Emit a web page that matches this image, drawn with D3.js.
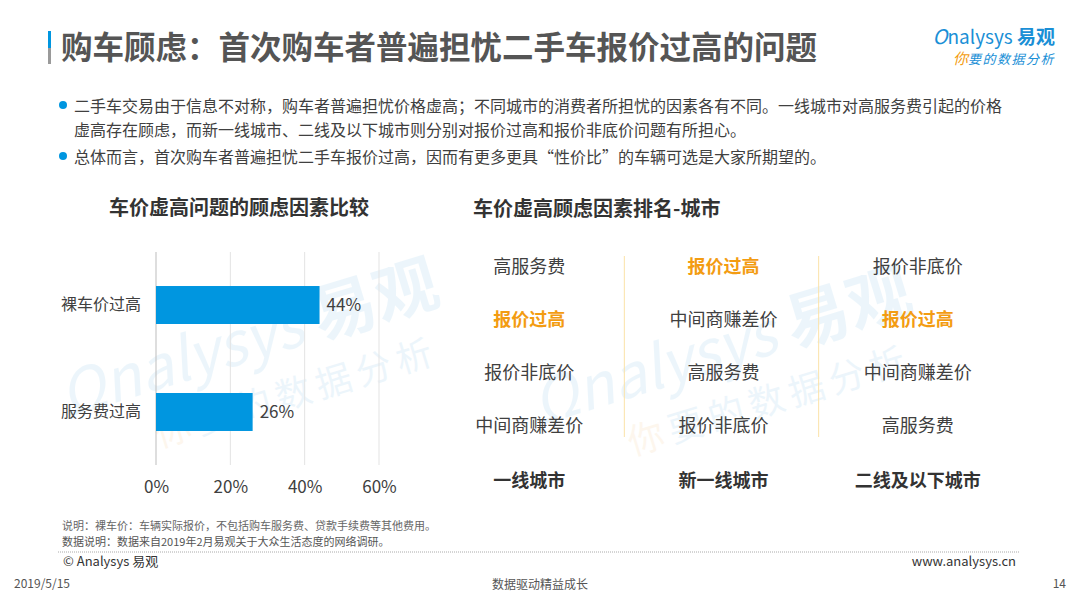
<!DOCTYPE html>
<html lang="zh">
  <head>
    <meta charset="utf-8">
    <title>购车顾虑</title>
    <script src="https://d3js.org/d3.v7.min.js"></script>
    <style>
      body { margin: 0; background: #fff; }
      svg { display: block; font-family: "Noto Sans CJK SC", "Noto Sans", sans-serif; }
    </style>
  </head>
  <body>
    <svg id="slide" width="1080" height="607"></svg>

    <script type="text/javascript">
      // 1) data
      let categories = ["裸车价过高", "服务费过高"];
      let values = [0.44, 0.26];
      let tickValues = [0, 0.2, 0.4, 0.6];

      let cities = ["一线城市", "新一线城市", "二线及以下城市"];
      let rankFirstTier = ["高服务费", "报价过高", "报价非底价", "中间商赚差价"];
      let rankNewFirstTier = ["报价过高", "中间商赚差价", "高服务费", "报价非底价"];
      let rankSecondTier = ["报价非底价", "报价过高", "中间商赚差价", "高服务费"];
      let highlight = "报价过高";

      let bullets = [
        ["二手车交易由于信息不对称，购车者普遍担忧价格虚高；不同城市的消费者所担忧的因素各有不同。一线城市对高服务费引起的价格",
         "虚高存在顾虑，而新一线城市、二线及以下城市则分别对报价过高和报价非底价问题有所担心。"],
        ["总体而言，首次购车者普遍担忧二手车报价过高，因而有更多更具“性价比”的车辆可选是大家所期望的。"]
      ];

      // 2) vars
      let blue = "#0096e0", orange = "#f39c12", dark = "#404040";
      let svg = d3.select("#slide");

      // watermarks (two faint copies of the logo)
      let marks = svg.selectAll("g.wm")
                     .data([[255, 360], [728, 368]])
                     .enter()
                     .append("g")
                     .attr("class", "wm")
                     .attr("transform", d => "translate(" + d + ") rotate(-17)")
                     .attr("opacity", 0.08);
      marks.append("text")
           .attr("text-anchor", "middle")
           .attr("font-size", 60)
           .attr("font-style", "italic")
           .attr("fill", "#1a8fd6")
           .html('<tspan>Ωnalysys </tspan><tspan font-weight="bold" font-style="normal" font-size="64">易观</tspan>');
      marks.append("text")
           .attr("x", 30).attr("y", 56)
           .attr("text-anchor", "middle")
           .attr("font-size", 36)
           .attr("letter-spacing", 6)
           .attr("fill", "#1a8fd6")
           .html('<tspan fill="#e89a2a">你</tspan><tspan>要的数据分析</tspan>');

      // 3) header
      svg.append("rect").attr("x", 48).attr("y", 31).attr("width", 3).attr("height", 17).attr("fill", blue);
      svg.append("rect").attr("x", 48).attr("y", 48).attr("width", 3).attr("height", 16).attr("fill", "#9a9a9a");
      svg.append("text")
         .attr("x", 61).attr("y", 59)
         .attr("font-size", 31.5)
         .attr("font-weight", "bold")
         .attr("fill", "#555")
         .text("购车顾虑：首次购车者普遍担忧二手车报价过高的问题");

      // logo
      svg.append("text")
         .attr("x", 1055).attr("y", 44)
         .attr("text-anchor", "end")
         .attr("font-size", 19)
         .attr("fill", "#1a8fd6")
         .html('<tspan font-style="italic" font-size="20">Ο</tspan><tspan>nalysys </tspan><tspan font-weight="bold">易观</tspan>');
      svg.append("text")
         .attr("x", 1055).attr("y", 64)
         .attr("text-anchor", "end")
         .attr("font-size", 13)
         .attr("font-style", "italic")
         .attr("fill", "#1a8fd6")
         .html('<tspan fill="' + orange + '" font-size="15">你</tspan><tspan letter-spacing="1.5">要的数据分析</tspan>');

      // bullets
      let lineY = [[106, 130], [157]];
      bullets.forEach(function(lines, i) {
        svg.append("circle")
           .attr("cx", 63).attr("cy", lineY[i][0] - 1)
           .attr("r", 4).attr("fill", blue);
        lines.forEach(function(t, j) {
          svg.append("text")
             .attr("x", 74).attr("y", lineY[i][j] + 6)
             .attr("font-size", 16)
             .attr("fill", dark)
             .text(t);
        });
      });

      // 4) left bar chart
      svg.append("text")
         .attr("x", 239).attr("y", 215)
         .attr("text-anchor", "middle")
         .attr("font-size", 20)
         .attr("font-weight", "bold")
         .attr("fill", "#333")
         .text("车价虚高问题的顾虑因素比较");

      let plotTop = 252, plotBottom = 465;
      let xScale = d3.scaleLinear()
                     .domain([0, 0.6])
                     .range([156, 379]);
      let yScale = d3.scaleBand()
                     .domain(categories)
                     .range([plotTop, plotBottom])
                     .paddingInner(0.645)
                     .paddingOuter(0.318);

      // grid
      svg.append("g")
         .selectAll("line")
         .data(tickValues)
         .enter()
         .append("line")
         .attr("x1", d => xScale(d)).attr("x2", d => xScale(d))
         .attr("y1", plotTop).attr("y2", plotBottom)
         .attr("stroke", d => d === 0 ? "#bdbdbd" : "#e3e3e3")
         .attr("stroke-width", 1);

      let x_axis = d3.axisBottom(xScale)
                     .tickValues(tickValues)
                     .tickFormat(d3.format(".0%"))
                     .tickSize(0)
                     .tickPadding(16);
      let xg = svg.append("g")
                  .attr("transform", "translate(0," + plotBottom + ")")
                  .call(x_axis);
      xg.select(".domain").remove();
      xg.selectAll("text")
        .attr("font-size", 17)
        .attr("font-family", "'Noto Sans CJK SC', sans-serif")
        .attr("fill", dark);

      let y_axis = d3.axisLeft(yScale).tickSize(0).tickPadding(15);
      let yg = svg.append("g")
                  .attr("transform", "translate(156,0)")
                  .call(y_axis);
      yg.select(".domain").remove();
      yg.selectAll("text")
        .attr("font-size", 16)
        .attr("font-family", "'Noto Sans CJK SC', sans-serif")
        .attr("fill", dark);

      svg.selectAll("rect.bar")
         .data(values)
         .enter()
         .append("rect")
         .attr("class", "bar")
         .attr("x", xScale(0))
         .attr("y", (d, i) => yScale(categories[i]))
         .attr("width", d => xScale(d) - xScale(0))
         .attr("height", yScale.bandwidth())
         .attr("fill", blue);

      svg.selectAll("text.val")
         .data(values)
         .enter()
         .append("text")
         .attr("class", "val")
         .attr("x", d => xScale(d) + 7)
         .attr("y", (d, i) => yScale(categories[i]) + yScale.bandwidth() / 2 + 6)
         .attr("font-size", 17)
         .attr("fill", dark)
         .text(d => d3.format(".0%")(d));

      // 5) right ranking table
      svg.append("text")
         .attr("x", 473).attr("y", 216)
         .attr("font-size", 20)
         .attr("font-weight", "bold")
         .attr("fill", "#333")
         .text("车价虚高顾虑因素排名-城市");

      let rankings = [rankFirstTier, rankNewFirstTier, rankSecondTier];
      let colScale = d3.scaleBand()
                       .domain(cities)
                       .range([432, 1015]);
      let rowScale = d3.scalePoint()
                       .domain([0, 1, 2, 3])
                       .range([267, 426]);

      // dividers
      svg.selectAll("line.div")
         .data(cities.slice(1))
         .enter()
         .append("line")
         .attr("class", "div")
         .attr("x1", d => colScale(d) - 2).attr("x2", d => colScale(d) - 2)
         .attr("y1", 256).attr("y2", 437)
         .attr("stroke", "#fbe2a8")
         .attr("stroke-width", 1);

      let cols = svg.selectAll("g.col")
                    .data(cities)
                    .enter()
                    .append("g")
                    .attr("class", "col")
                    .attr("transform", d => "translate(" + (colScale(d) + colScale.bandwidth() / 2) + ",0)");

      cols.selectAll("text.item")
          .data((d, i) => rankings[i])
          .enter()
          .append("text")
          .attr("class", "item")
          .attr("y", (d, i) => rowScale(i) + 6)
          .attr("text-anchor", "middle")
          .attr("font-size", 18)
          .attr("font-weight", d => d === highlight ? "bold" : "normal")
          .attr("fill", d => d === highlight ? orange : dark)
          .text(d => d);

      cols.append("text")
          .attr("y", 487)
          .attr("text-anchor", "middle")
          .attr("font-size", 18)
          .attr("font-weight", "bold")
          .attr("fill", "#333")
          .text(d => d);

      // 6) footer
      svg.append("text")
         .attr("x", 62).attr("y", 530)
         .attr("font-size", 11)
         .attr("fill", "#666")
         .text("说明：裸车价：车辆实际报价，不包括购车服务费、贷款手续费等其他费用。");
      svg.append("text")
         .attr("x", 62).attr("y", 546)
         .attr("font-size", 11)
         .attr("fill", "#555")
         .text("数据说明：数据来自2019年2月易观关于大众生活态度的网络调研。");
      svg.append("line")
         .attr("x1", 58).attr("x2", 1020)
         .attr("y1", 552).attr("y2", 552)
         .attr("stroke", "#aaa")
         .attr("stroke-dasharray", "1,1");
      svg.append("text")
         .attr("x", 63).attr("y", 566)
         .attr("font-size", 13)
         .attr("fill", "#333")
         .text("© Analysys 易观");
      svg.append("text")
         .attr("x", 1016).attr("y", 566)
         .attr("text-anchor", "end")
         .attr("font-size", 13)
         .attr("fill", "#333")
         .text("www.analysys.cn");
      svg.append("text")
         .attr("x", 14).attr("y", 588)
         .attr("font-size", 12)
         .attr("fill", "#555")
         .text("2019/5/15");
      svg.append("text")
         .attr("x", 540).attr("y", 589)
         .attr("text-anchor", "middle")
         .attr("font-size", 12)
         .attr("fill", "#555")
         .text("数据驱动精益成长");
      svg.append("text")
         .attr("x", 1066).attr("y", 588)
         .attr("text-anchor", "end")
         .attr("font-size", 12)
         .attr("fill", "#555")
         .text("14");
    </script>
  </body>
</html>
